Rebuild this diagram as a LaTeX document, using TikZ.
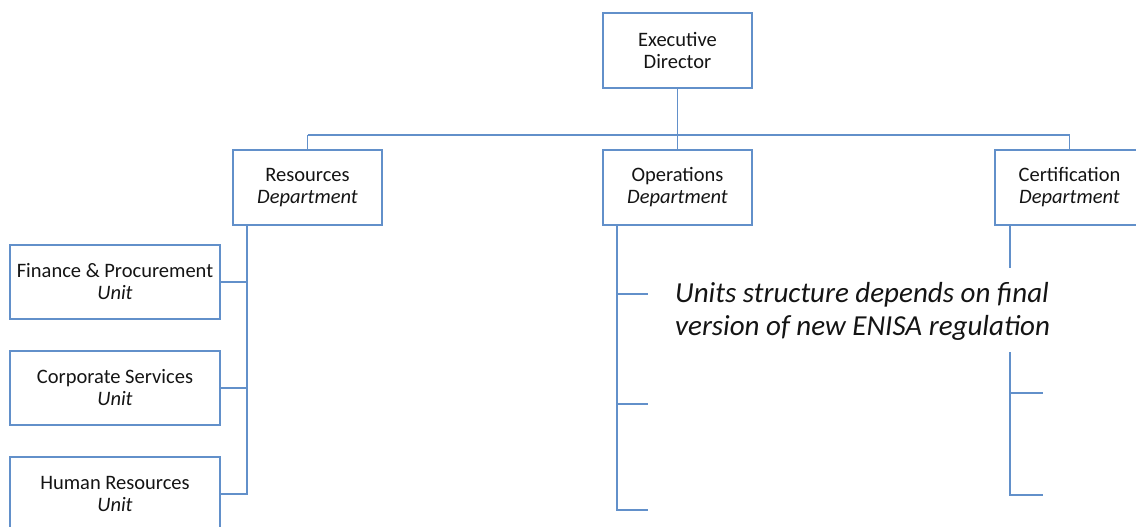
\documentclass[tikz,border=0pt]{standalone}
\usepackage{fontspec}
\setmainfont{Carlito}
\definecolor{orgblue}{RGB}{98,144,202}
\definecolor{txt}{RGB}{20,20,20}
\begin{document}
\begin{tikzpicture}[x=1pt,y=-1pt,
  box/.style={draw=orgblue,line width=1.8pt,minimum width=149pt,minimum height=75pt,
    align=center,inner sep=0pt,font=\fontsize{20.5}{22}\selectfont,text=txt},
  unitbox/.style={box,minimum width=210pt,minimum height=74pt},
  conn/.style={draw=orgblue,line width=1.8pt}]
\useasboundingbox (0,0) rectangle (1136,527);
\node[box] (exec) at (677.5,50.5) {Executive\\Director};
\node[box] (res) at (307.5,187.5) {Resources\\\textit{Department}};
\node[box] (ops) at (677.5,187.5) {Operations\\\textit{Department}};
\node[box] (cert) at (1069.5,187.5) {Certification\\\textit{Department}};
\node[unitbox] (fin) at (115,282) {Finance \& Procurement\\\textit{Unit}};
\node[unitbox] (corp) at (115,388) {Corporate Services\\\textit{Unit}};
\node[unitbox] (hr) at (115,494) {Human Resources\\\textit{Unit}};
\node[anchor=west,align=left,inner sep=0pt,text=txt,font=\fontsize{29}{33}\selectfont\itshape] (note) at (675,311)
  {Units structure depends on final\\version of new ENISA regulation};
% top bar
\coordinate (barL) at (307.5,135);
\coordinate (barR) at (1069.5,135);
\draw[conn] (barL) -- (barR);
\draw[conn] (exec.south) -- (ops.north);
\draw[conn] (barL) -- (res.north);
\draw[conn] (barR) -- (cert.north);
% resources spine
\coordinate (rs) at (247,225);
\coordinate (rb) at (247,494);
\draw[conn] (rs) -- (rb) -- (hr.east);
\draw[conn] (fin.east) -- (fin.east -| rs);
\draw[conn] (corp.east) -- (corp.east -| rs);
% operations spine
\coordinate (os) at (617,225);
\coordinate (ob) at (617,510);
\coordinate (o1) at (648,294);
\coordinate (o2) at (648,404);
\coordinate (o3) at (648,510);
\draw[conn] (os) -- (ob) -- (o3);
\draw[conn] (o1 -| os) -- (o1);
\draw[conn] (o2 -| os) -- (o2);
% certification spine
\coordinate (cs) at (1010,225);
\coordinate (c1) at (1010,268);
\coordinate (c2) at (1010,352);
\coordinate (cb) at (1010,495);
\coordinate (t1) at (1043,393);
\coordinate (t2) at (1043,495);
\draw[conn] (cs) -- (c1);
\draw[conn] (c2) -- (cb) -- (t2);
\draw[conn] (t1 -| cs) -- (t1);
\end{tikzpicture}
\end{document}
